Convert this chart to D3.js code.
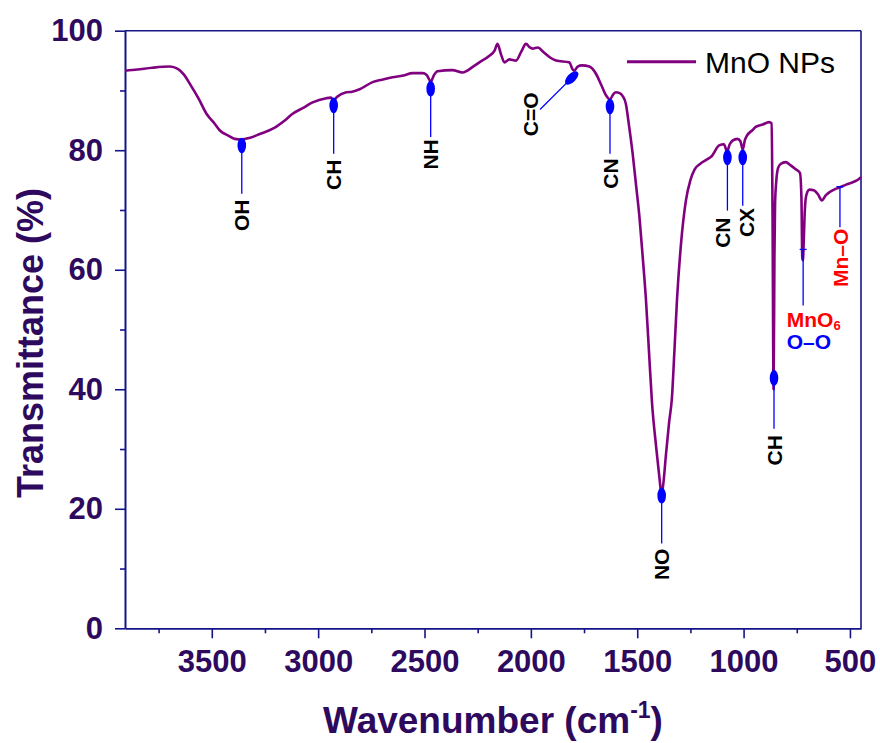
<!DOCTYPE html>
<html>
<head>
<meta charset="utf-8">
<script src="https://cdn.jsdelivr.net/npm/d3@7/dist/d3.min.js"></script>
<style>
  body { margin: 0; background: #fff; }
  svg { display: block; }
  text { font-family: "Liberation Sans", Arial, Helvetica, sans-serif; }
</style>
</head>
<body>
<svg id="chart" width="880" height="743"></svg>
<script>
// FTIR spectrum (wavenumber in cm-1, transmittance in %)
var waveNum = [3908, 3850, 3780, 3697, 3660, 3630, 3603, 3560, 3525, 3490, 3462, 3420, 3392, 3360, 3320, 3275,
  3213, 3160, 3120, 3070, 3026, 2962, 2940, 2927, 2912, 2868, 2840, 2805, 2744, 2700, 2650, 2600, 2556, 2509,
  2490, 2471, 2455, 2439, 2369, 2322, 2300, 2275, 2242, 2195, 2170, 2157, 2140, 2124, 2101, 2070, 2045, 2023,
  2005, 1992, 1968, 1940, 1913, 1882, 1819, 1805, 1796, 1780, 1760, 1725, 1710, 1694, 1670, 1647, 1628, 1612,
  1600, 1585, 1569, 1553, 1540, 1522, 1505, 1490, 1475, 1459, 1445, 1431, 1410, 1395, 1386, 1378, 1365, 1350,
  1337, 1325, 1313, 1295, 1271, 1250, 1230, 1205, 1170, 1150, 1115, 1092, 1078, 1065, 1052, 1029, 1015, 1004,
  994, 985, 960, 943, 910, 880, 868, 864, 859, 855, 852, 847, 838, 826, 802, 780, 755, 735, 728, 724, 721, 717,
  712, 705, 690, 670, 650, 632, 615, 595, 570, 547, 520, 489, 470, 458, 448];
var transm = [93.3, 93.5, 93.8, 94.0, 93.6, 92.6, 91.1, 88.5, 86.1, 84.6, 83.3, 82.4, 81.9, 81.8, 82.1, 82.7,
  83.6, 84.9, 86.1, 87.1, 88.0, 88.7, 88.8, 88.3, 88.9, 89.7, 89.8, 90.2, 91.4, 91.8, 92.2, 92.5, 92.9, 92.9,
  92.6, 91.5, 92.6, 93.2, 93.4, 93.0, 93.3, 93.9, 94.7, 95.8, 96.7, 97.8, 96.0, 94.7, 95.2, 95.0, 96.5, 97.8,
  97.2, 97.0, 97.2, 96.4, 95.6, 95.0, 94.7, 93.6, 93.3, 94.0, 94.2, 94.0, 93.6, 92.8, 91.0, 89.2, 88.5, 89.4,
  89.7, 89.6, 89.1, 87.7, 84.5, 79.6, 74.0, 69.0, 62.5, 55.0, 46.5, 38.0, 30.0, 25.0, 22.4, 24.0, 29.0, 34.5,
  38.5, 46.5, 55.0, 64.0, 71.6, 75.0, 76.8, 77.7, 78.5, 79.0, 80.8, 81.0, 79.8, 81.0, 81.6, 81.9, 81.5, 80.1,
  81.7, 82.4, 83.3, 83.9, 84.3, 84.7, 84.5, 70.0, 40.0, 62.0, 71.0, 74.5, 77.0, 77.7, 78.0, 77.5, 76.8, 76.2, 72.0, 62.0, 61.6, 65.0,
  70.0, 72.5, 73.4, 73.3, 72.6, 71.6, 72.4, 73.0, 73.5, 73.8, 74.2, 74.6, 74.9, 75.2, 75.5];

var xMajor = [3500, 3000, 2500, 2000, 1500, 1000, 500];
var xMinor = [3750, 3250, 2750, 2250, 1750, 1250, 750];
var yMajor = [0, 20, 40, 60, 80, 100];
var yMinor = [10, 30, 50, 70, 90];
var seriesName = "MnO NPs";

// peak sticks: dot at (wn, t), stick down to endT, label centred at (labWn, labT)
var peaks = [
  { name: "OH", wn: 3359, t: 80.8, endT: 72.7, labWn: 3359, labT: 69.1 },
  { name: "CH", wn: 2927, t: 87.5, endT: 79.4, labWn: 2927, labT: 75.9 },
  { name: "NH", wn: 2471, t: 90.3, endT: 82.2, labWn: 2471, labT: 79.3 },
  { name: "CN", wn: 1628, t: 87.3, endT: 79.4, labWn: 1628, labT: 76.1 },
  { name: "NO", wn: 1385, t: 22.2, endT: 14.2, labWn: 1385, labT: 10.7 },
  { name: "CN", wn: 1076, t: 78.8, endT: 69.9, labWn: 1099, labT: 66.2 },
  { name: "CX", wn: 1004, t: 78.8, endT: 70.7, labWn: 986, labT: 67.9 },
  { name: "CH", wn: 857, t: 41.9, endT: 33.4, labWn: 857, labT: 29.8 }
];
// the C=O stick leans to the left
var carbonyl = { name: "C=O", wn: 1808, t: 92.1, endWn: 1957, endT: 86.8, labWn: 2004, labT: 86.0 };
// metal-oxygen bands, capped sticks
var mnO6 = { wn: 720, t: 63.4, endT: 54.0, labWn: 797, labT: 50.4, lab2T: 46.8 };
var mnO = { name: "Mn\u2013O", wn: 547, t: 73.9, endT: 67.1, labT: 62.0 };

var svg = d3.select("#chart");
var axisCol = "#15158a";
var textCol = "#2e0a5e";

var x = d3.scaleLinear().domain([3908, 448]).range([125, 861]);
var y = d3.scaleLinear().domain([0, 100]).range([628.3, 30.7]);

// frame on top and right
svg.append("line").attr("x1", 125).attr("x2", 861).attr("y1", y(100)).attr("y2", y(100))
  .attr("stroke", axisCol).attr("stroke-width", 1.6);
svg.append("line").attr("x1", 861).attr("x2", 861).attr("y1", y(100)).attr("y2", y(0))
  .attr("stroke", axisCol).attr("stroke-width", 1.6);

function styleAxis(g) {
  g.select(".domain").attr("stroke", axisCol).attr("stroke-width", 1.6);
  g.selectAll(".tick line").attr("stroke", axisCol).attr("stroke-width", 1.6);
  g.selectAll("text").attr("fill", textCol).attr("font-weight", "bold").attr("font-size", 31);
}

var gx = svg.append("g").attr("transform", "translate(0," + y(0) + ")");
gx.call(d3.axisBottom(x).tickValues(xMajor).tickFormat(d3.format("d"))
    .tickSize(10).tickPadding(12).tickSizeOuter(0))
  .call(styleAxis);
gx.selectAll("text").attr("dy", "0.71em");
svg.append("g").attr("transform", "translate(0," + y(0) + ")")
  .call(d3.axisBottom(x).tickValues(xMinor).tickSize(5).tickFormat("").tickSizeOuter(0))
  .call(styleAxis);

var gy = svg.append("g").attr("transform", "translate(125,0)");
gy.call(d3.axisLeft(y).tickValues(yMajor).tickFormat(d3.format("d"))
    .tickSize(10).tickPadding(12).tickSizeOuter(0))
  .call(styleAxis);
svg.append("g").attr("transform", "translate(125,0)")
  .call(d3.axisLeft(y).tickValues(yMinor).tickSize(5).tickFormat("").tickSizeOuter(0))
  .call(styleAxis);

// axis titles
var xt = svg.append("text").attr("x", 493).attr("y", 733).attr("text-anchor", "middle")
  .attr("fill", textCol).attr("font-weight", "bold").attr("font-size", 37);
xt.append("tspan").text("Wavenumber (cm");
xt.append("tspan").attr("font-size", 23).attr("dy", -15).text("-1");
xt.append("tspan").attr("dy", 15).text(")");

svg.append("text").attr("transform", "translate(43,343) rotate(-90)").attr("text-anchor", "middle")
  .attr("fill", textCol).attr("font-weight", "bold").attr("font-size", 36)
  .text("Transmittance (%)");

// spectrum
var pts = waveNum.map(function (d, i) { return [d, transm[i]]; });
var line = d3.line()
  .x(function (d) { return x(d[0]); })
  .y(function (d) { return y(d[1]); })
  .curve(d3.curveMonotoneX);
svg.append("path").datum(pts).attr("d", line)
  .attr("fill", "none").attr("stroke", "#800080").attr("stroke-width", 2.6)
  .attr("stroke-linejoin", "round");

// legend
svg.append("line").attr("x1", 627).attr("x2", 696).attr("y1", 61.7).attr("y2", 61.7)
  .attr("stroke", "#800080").attr("stroke-width", 3);
svg.append("text").attr("x", 705).attr("y", 73).attr("font-size", 30).attr("fill", "#000")
  .text(seriesName);

// peak sticks with dots
var blue = "#0000ff";
var pk = svg.append("g");
peaks.forEach(function (p) {
  pk.append("line").attr("x1", x(p.wn)).attr("x2", x(p.wn)).attr("y1", y(p.t)).attr("y2", y(p.endT))
    .attr("stroke", blue).attr("stroke-width", 1.3);
  pk.append("ellipse").attr("cx", x(p.wn)).attr("cy", y(p.t)).attr("rx", 4.3).attr("ry", 7.8)
    .attr("fill", blue);
  pk.append("text")
    .attr("transform", "translate(" + x(p.labWn) + "," + y(p.labT) + ") rotate(-90)")
    .attr("text-anchor", "middle").attr("dy", "0.36em")
    .attr("font-size", 21).attr("font-weight", "bold").attr("fill", "#000")
    .text(p.name);
});

pk.append("line").attr("x1", x(carbonyl.wn)).attr("x2", x(carbonyl.endWn))
  .attr("y1", y(carbonyl.t)).attr("y2", y(carbonyl.endT))
  .attr("stroke", blue).attr("stroke-width", 1.3);
pk.append("ellipse").attr("rx", 4.3).attr("ry", 8.5).attr("fill", blue)
  .attr("transform", "translate(" + x(carbonyl.wn) + "," + y(carbonyl.t) + ") rotate(45)");
pk.append("text")
  .attr("transform", "translate(" + x(carbonyl.labWn) + "," + y(carbonyl.labT) + ") rotate(-90)")
  .attr("text-anchor", "middle").attr("dy", "0.36em")
  .attr("font-size", 21).attr("font-weight", "bold").attr("fill", "#000")
  .text(carbonyl.name);

// capped sticks for the Mn bands
[mnO6, mnO].forEach(function (p) {
  pk.append("line").attr("x1", x(p.wn)).attr("x2", x(p.wn)).attr("y1", y(p.t)).attr("y2", y(p.endT))
    .attr("stroke", blue).attr("stroke-width", 1.3);
  pk.append("line").attr("x1", x(p.wn) - 3.5).attr("x2", x(p.wn) + 3.5).attr("y1", y(p.t)).attr("y2", y(p.t))
    .attr("stroke", blue).attr("stroke-width", 1.3);
});

var t6 = pk.append("text").attr("x", x(mnO6.labWn)).attr("y", y(mnO6.labT))
  .attr("font-size", 21).attr("font-weight", "bold").attr("fill", "#ff0000");
t6.append("tspan").text("MnO");
t6.append("tspan").attr("font-size", 13).attr("dy", 3).text("6");
pk.append("text").attr("x", x(mnO6.labWn)).attr("y", y(mnO6.lab2T))
  .attr("font-size", 21).attr("font-weight", "bold").attr("fill", blue)
  .text("O\u2013O");

pk.append("text")
  .attr("transform", "translate(" + x(mnO.wn) + "," + y(mnO.labT) + ") rotate(-90)")
  .attr("text-anchor", "middle").attr("dy", "0.36em")
  .attr("font-size", 21).attr("font-weight", "bold").attr("fill", "#ff0000")
  .text(mnO.name);
</script>
</body>
</html>
